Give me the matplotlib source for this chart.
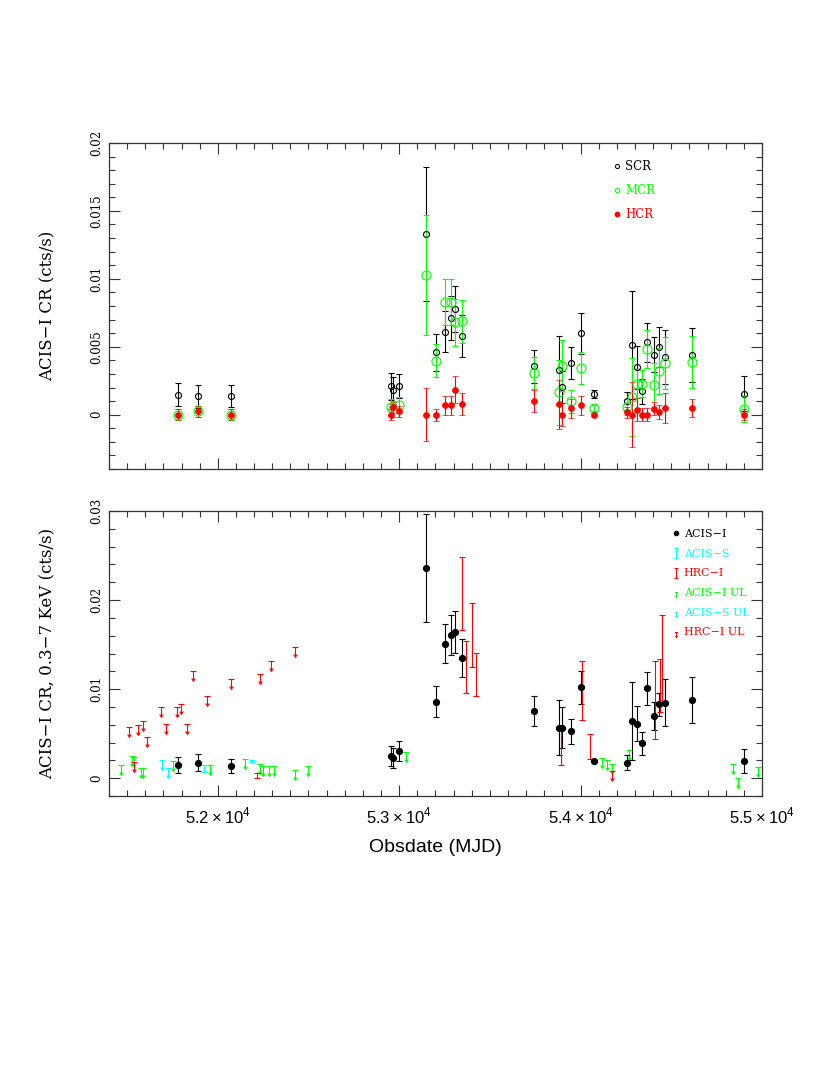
import matplotlib
matplotlib.use('Agg')
import matplotlib.pyplot as plt
from matplotlib.path import Path
from matplotlib.lines import Line2D
from matplotlib.ticker import MultipleLocator

plt.rcParams['font.family'] = ['DejaVu Serif']
plt.rcParams['mathtext.fontset'] = 'custom'
plt.rcParams['mathtext.rm'] = 'Liberation Sans'

# ---- ACIS-I epochs (MJD), shared by both panels ----
mjd = [51782, 51892, 52071, 52953, 52967, 53000, 53147, 53203, 53250, 53283,
       53309, 53346, 53741, 53881, 53895, 53947, 54000, 54074, 54254, 54285,
       54313, 54340, 54369, 54406, 54430, 54463, 54617, 54902]

# top panel: soft / medium / hard count rates (cts/s)
scr = [0.00147, 0.00135, 0.00140, 0.00208, 0.00179, 0.00213, 0.0133, 0.0046, 0.0061, 0.00713,
       0.0078, 0.0058, 0.00355, 0.00326, 0.00204, 0.0038, 0.0060, 0.00154, 0.00103, 0.00512,
       0.00348, 0.00172, 0.00532, 0.00441, 0.00495, 0.00424, 0.00439, 0.00154]
scr_err = [0.00085, 0.00085, 0.0008, 0.0010, 0.0010, 0.0009, 0.0049, 0.00135, 0.0015, 0.0016,
           0.0017, 0.00155, 0.0012, 0.00255, 0.0012, 0.0012, 0.0015, 0.0003, 0.00065, 0.0040,
           0.0016, 0.0009, 0.00142, 0.0013, 0.00147, 0.00196, 0.0020, 0.0013]
mcr = [0.0, 0.00025, 0.0, 0.00054, 0.00042, 0.00071, 0.0103, 0.00397, 0.0083, 0.0083,
       0.00679, 0.00686, 0.00306, 0.00164, 0.00362, 0.00098, 0.00343, 0.00049, 0.00056, 0.0013,
       0.00228, 0.00228, 0.00483, 0.0022, 0.00319, 0.0038, 0.00387, 0.00042]
mcr_err = [0.0004, 0.0004, 0.0004, 0.0006, 0.0006, 0.0006, 0.0044, 0.0012, 0.00167, 0.00167,
           0.0017, 0.0016, 0.00115, 0.0024, 0.0019, 0.00085, 0.00115, 0.0002, 0.0006, 0.0029,
           0.00105, 0.0010, 0.0014, 0.0016, 0.0017, 0.0019, 0.0019, 0.00095]
hcr = [0.0, 0.00025, 0.0, 0.0, 0.00053, 0.00025, 0.0, 0.0, 0.00071, 0.00071,
       0.00184, 0.00081, 0.00098, 0.00078, 0.0, 0.00049, 0.00071, 0.0, 0.00017, 0.0,
       0.00037, 0.0, 0.0, 0.00044, 0.0002, 0.00049, 0.00049, 0.0]
hcr_err = [0.0004, 0.0004, 0.0004, 0.0004, 0.0004, 0.0004, 0.00195, 0.00045, 0.0007, 0.0007,
           0.0010, 0.0008, 0.0008, 0.0018, 0.00085, 0.0007, 0.0007, 0.00015, 0.0004, 0.0024,
           0.00085, 0.0005, 0.0005, 0.0005, 0.0005, 0.0011, 0.00065, 0.0004]

# bottom panel: 0.3-7 keV rates
acisi = [0.00146, 0.00176, 0.00135, 0.00251, 0.00228, 0.00303, 0.0236, 0.00858, 0.01509, 0.0161,
         0.0164, 0.0135, 0.00757, 0.00566, 0.00566, 0.00528, 0.01019, 0.00195, 0.00176, 0.0064,
         0.00614, 0.0039, 0.01008, 0.0070, 0.0083, 0.0085, 0.00876, 0.00191]
acisi_err = [0.00087, 0.00095, 0.00077, 0.0011, 0.0011, 0.00115, 0.0061, 0.00172, 0.0022, 0.00225,
             0.00236, 0.00217, 0.00167, 0.0031, 0.0023, 0.0014, 0.00185, 0.0001, 0.0008, 0.00435,
             0.0020, 0.00127, 0.00187, 0.0016, 0.0013, 0.0026, 0.0026, 0.00137]

acis_s_mjd = [51924, 52187]
acis_s = [0.00109, 0.00195]
acis_s_err = [0.00037, 0.00012]

hrc_mjd = [52214, 53344, 53366, 53400, 53423, 53890, 54006, 54052, 54412, 54437, 54451]
hrc = [0.00034, 0.0207, 0.0125, 0.0161, 0.01165, 0.00355, 0.00985, 0.00358, 0.00882, 0.0104, 0.0134]
hrc_err = [0.0003, 0.0041, 0.0029, 0.0036, 0.00245, 0.0021, 0.00333, 0.00137, 0.00436, 0.0030, 0.0049]

acisi_ul_mjd = [51464, 51525, 51536, 51575, 51589, 51751, 51957, 52152, 52232, 52251, 52282,
                52311, 52427, 52499, 53037, 54116, 54147, 54171, 54267, 54838, 54869, 54979]
acisi_ul = [0.00146, 0.00247, 0.0024, 0.00115, 0.00115, 0.00191, 0.00154, 0.00221, 0.00165, 0.00135,
            0.00135, 0.00135, 0.00097, 0.00138, 0.00296, 0.00232, 0.0021, 0.00157, 0.00315, 0.00165,
            0.0, 0.00127]
acis_s_ul_mjd = [51694, 51727]
acis_s_ul = [0.0020, 0.0012]
hrc_ul_mjd = [51512, 51536, 51562, 51586, 51611, 51688, 51716, 51773, 51799, 51828, 51865,
              51940, 52071, 52232, 52291, 52427, 54171]
hrc_ul = [0.00576, 0.00183, 0.00603, 0.00644, 0.00464, 0.00801, 0.00614, 0.00801, 0.00839, 0.00614,
          0.01206, 0.00921, 0.01112, 0.01169, 0.01315, 0.01475, 0.0008]

xticks = [52000, 53000, 54000, 55000]
xticklabels = [r'$5.2\times10^4$', r'$5.3\times10^4$', r'$5.4\times10^4$', r'$5.5\times10^4$']
top_yticks = [0, 0.005, 0.01, 0.015, 0.02]
top_yticklabels = ['0', '0.005', '0.01', '0.015', '0.02']
bot_yticks = [0, 0.01, 0.02, 0.03]
bot_yticklabels = ['0', '0.01', '0.02', '0.03']

GREEN = '#00ff00'
CYAN = '#00ffff'
RED = '#ff0000'
FRAME = '#333333'

# upper-limit symbol: bar at the value, arrow pointing down
ul_path = Path([(-0.5, 0), (0.5, 0), (0, 0), (0, -1.6), (-0.3, -1.15), (0, -1.6), (0.3, -1.15)],
               [Path.MOVETO, Path.LINETO, Path.MOVETO, Path.LINETO, Path.MOVETO, Path.LINETO, Path.LINETO])
# error-bar-only symbol for the legend
ibar_path = Path([(-0.5, 1), (0.5, 1), (0, 1), (0, -1), (-0.5, -1), (0.5, -1)],
                 [Path.MOVETO, Path.LINETO, Path.MOVETO, Path.LINETO, Path.MOVETO, Path.LINETO])

fig = plt.figure(figsize=(8.3, 10.75), dpi=100)
ax1 = fig.add_axes([0.1313, 0.5637, 0.7867, 0.3033])
ax2 = fig.add_axes([0.1313, 0.2595, 0.7867, 0.2651])

eb = dict(elinewidth=0.8, capsize=2.5, capthick=0.8, linestyle='none')
UL_MS = 14

# ---- top panel ----
ax1.errorbar(mjd, scr, yerr=scr_err, fmt='o', ms=4.3, mfc='none', mec='k', mew=0.8, ecolor='k', **eb)
ax1.errorbar(mjd, mcr, yerr=mcr_err, fmt='o', ms=6.5, mfc='none', mec=GREEN, mew=0.8, ecolor=GREEN, **eb)
ax1.errorbar(mjd, hcr, yerr=hcr_err, fmt='o', ms=4.3, mfc=RED, mec=RED, mew=0.5, ecolor=RED, **eb)

h_top = [Line2D([], [], ls='none', marker='o', ms=3, mfc='none', mec='k', mew=0.7),
         Line2D([], [], ls='none', marker='o', ms=3.2, mfc='none', mec=GREEN, mew=0.7),
         Line2D([], [], ls='none', marker='o', ms=3.2, mfc=RED, mec=RED)]
ax1.legend(h_top, ['SCR', 'MCR', 'HCR'], labelcolor=['k', GREEN, RED], loc='upper left',
           bbox_to_anchor=(0.762, 0.967), frameon=False, fontsize=8.5, borderpad=0,
           handlelength=0.8, handletextpad=0.3, labelspacing=0.95)

ax1.set_ylim(-0.004, 0.02)
ax1.set_yticks(top_yticks)
ax1.set_yticklabels(top_yticklabels, rotation=90, va='center')
ax1.yaxis.set_minor_locator(MultipleLocator(0.001))
ax1.set_ylabel('ACIS\u2212I CR (cts/s)', fontsize=12)
ax1.yaxis.set_label_coords(-0.080, 0.5)

# ---- bottom panel ----
ax2.plot(acisi_ul_mjd, acisi_ul, ls='none', marker=ul_path, ms=UL_MS, mfc='none', mec=GREEN, mew=0.8)
ax2.plot(acis_s_ul_mjd, acis_s_ul, ls='none', marker=ul_path, ms=UL_MS, mfc='none', mec=CYAN, mew=0.8)
ax2.plot(hrc_ul_mjd, hrc_ul, ls='none', marker=ul_path, ms=UL_MS, mfc='none', mec=RED, mew=0.8)
ax2.errorbar(mjd, acisi, yerr=acisi_err, fmt='o', ms=4.2, mfc='k', mec='k', ecolor='k', **eb)
ax2.errorbar(acis_s_mjd, acis_s, yerr=acis_s_err, fmt='none', ecolor=CYAN, **eb)
ax2.errorbar(hrc_mjd, hrc, yerr=hrc_err, fmt='none', ecolor=RED, **eb)

h_bot = [Line2D([], [], ls='none', marker='o', ms=3, mfc='k', mec='k'),
         Line2D([], [], ls='none', marker=ibar_path, ms=7, mfc='none', mec=CYAN, mew=0.8),
         Line2D([], [], ls='none', marker=ibar_path, ms=7, mfc='none', mec=RED, mew=0.8),
         Line2D([], [], ls='none', marker=ul_path, ms=7, mfc='none', mec=GREEN, mew=0.8),
         Line2D([], [], ls='none', marker=ul_path, ms=7, mfc='none', mec=CYAN, mew=0.8),
         Line2D([], [], ls='none', marker=ul_path, ms=7, mfc='none', mec=RED, mew=0.8)]
ax2.legend(h_bot, ['ACIS\u2212I', 'ACIS\u2212S', 'HRC\u2212I', 'ACIS\u2212I UL', 'ACIS\u2212S UL', 'HRC\u2212I UL'],
           labelcolor=['k', CYAN, RED, GREEN, CYAN, RED], loc='upper left',
           bbox_to_anchor=(0.853, 0.956), frameon=False, fontsize=8, borderpad=0,
           handlelength=0.8, handletextpad=0.3, labelspacing=0.87)

ax2.set_ylim(-0.002, 0.03)
ax2.set_yticks(bot_yticks)
ax2.set_yticklabels(bot_yticklabels, rotation=90, va='center')
ax2.yaxis.set_minor_locator(MultipleLocator(0.002))
ax2.set_ylabel('ACIS\u2212I CR, 0.3\u22127 KeV (cts/s)', fontsize=12)
ax2.yaxis.set_label_coords(-0.080, 0.5)
ax2.set_xlabel('Obsdate (MJD)', fontsize=14, family='Liberation Sans', labelpad=8)

for ax in (ax1, ax2):
    ax.set_xlim(51400, 55000)
    ax.set_xticks(xticks)
    ax.xaxis.set_minor_locator(MultipleLocator(100))
    ax.tick_params(which='both', direction='in', top=True, right=True, color=FRAME, width=0.8)
    ax.tick_params(which='major', length=8)
    ax.tick_params(which='minor', length=4.5)
    ax.tick_params(axis='y', labelsize=8.5, pad=4)
    for s in ax.spines.values():
        s.set_color(FRAME)
        s.set_linewidth(0.9)

ax1.set_xticklabels([])
ax2.set_xticklabels(xticklabels)
ax2.tick_params(axis='x', labelsize=12, pad=8)

fig.savefig('out.png', dpi=100)
